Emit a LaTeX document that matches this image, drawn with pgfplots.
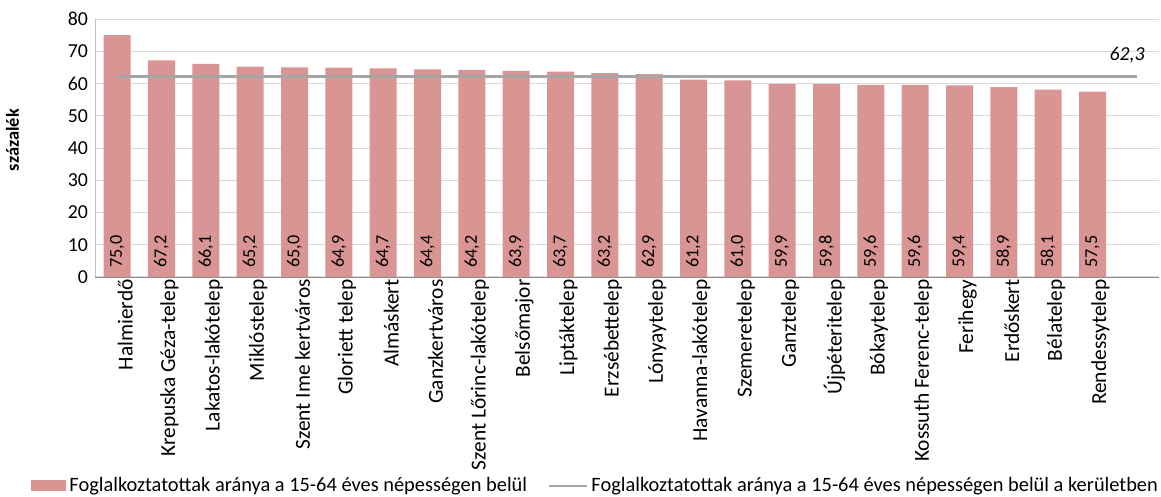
\documentclass[border=0pt]{standalone}
\usepackage{fontspec}
\setmainfont{Carlito}
\usepackage{pgfplots}
\pgfplotsset{compat=1.18}
\definecolor{barcol}{RGB}{217,149,148}
\definecolor{avgline}{RGB}{166,166,166}
\definecolor{gridc}{RGB}{217,217,217}
\newcommand{\chartfont}{\fontsize{9.9}{12}\selectfont}
\newcommand{\catfont}{\fontsize{10.7}{13}\selectfont}
\newcommand{\legfont}{\fontsize{10.2}{12}\selectfont}
\newcommand{\valfont}{\fontsize{9.1}{11}\selectfont}
\begin{document}
\begin{tikzpicture}
\useasboundingbox (-47.5pt,-110pt) rectangle (533pt,138.5pt);
\begin{axis}[
    at={(0,0)}, anchor=south west,
    scale only axis,
    width=532pt, height=129pt,
    xmin=-0.5, xmax=23.5,
    ymin=0, ymax=80,
    ytick={0,10,...,80},
    xtick={0,...,22},
    xticklabels={Halmierdő, Krepuska Géza-telep, Lakatos-lakótelep, Miklóstelep,
        Szent Ime kertváros, Gloriett telep, Almáskert, Ganzkertváros,
        Szent Lőrinc-lakótelep, Belsőmajor, Liptáktelep, Erzsébettelep,
        Lónyaytelep, Havanna-lakótelep, Szemeretelep, Ganztelep, Újpéteritelep,
        Bókaytelep, Kossuth Ferenc-telep, Ferihegy, Erdőskert, Bélatelep,
        Rendessytelep},
    xticklabel style={rotate=90, anchor=east, font=\catfont, inner sep=1pt, yshift=-4pt},
    yticklabel style={font=\chartfont},
    /pgf/number format/assume math mode=true,
    major tick length=0pt,
    axis lines*=left,
    x axis line style={draw=gray!90, -},
    y axis line style={draw=gray!50, -},
    ymajorgrids,
    grid style={draw=gridc, line width=0.5pt},
    ylabel={\bfseries százalék},
    ylabel style={font=\fontsize{9.2}{10}\selectfont, at={(axis description cs:-0.0775,0.531)}, anchor=center},
    legend columns=2,
    legend style={at={(0.471,-0.81)}, anchor=center, draw=none, font=\legfont,
        /tikz/every even column/.append style={column sep=9pt},
        nodes={inner sep=1.5pt},
        inner sep=0pt},
    legend cell align=left,
]
\addplot[ybar, bar width=13.5pt, fill=barcol, draw=none,
    legend image code/.code={\fill[barcol] (0pt,-2.75pt) rectangle (17.5pt,2.75pt);}]
coordinates {
    (0,75.0) (1,67.2) (2,66.1) (3,65.2) (4,65.0) (5,64.9) (6,64.7) (7,64.4)
    (8,64.2) (9,63.9) (10,63.7) (11,63.2) (12,62.9) (13,61.2) (14,61.0)
    (15,59.9) (16,59.8) (17,59.6) (18,59.6) (19,59.4) (20,58.9) (21,58.1)
    (22,57.5)
};
\addlegendentry{Foglalkoztatottak aránya a 15-64 éves népességen belül}
\addplot[avgline, line width=1.5pt,
    legend image code/.code={\draw[avgline, line width=1.2pt] (0pt,0pt) -- (19pt,0pt);}]
coordinates {(0,62.3) (23,62.3)};
\addlegendentry{Foglalkoztatottak aránya a 15-64 éves népességen belül a kerületben}
\addplot[draw=none, mark=none, forget plot,
    nodes near coords, point meta=explicit symbolic,
    every node near coord/.style={rotate=90, anchor=west, font=\valfont, inner sep=4.5pt, text=black}]
coordinates {
    (0,0) [75,0] (1,0) [67,2] (2,0) [66,1] (3,0) [65,2] (4,0) [65,0]
    (5,0) [64,9] (6,0) [64,7] (7,0) [64,4] (8,0) [64,2] (9,0) [63,9]
    (10,0) [63,7] (11,0) [63,2] (12,0) [62,9] (13,0) [61,2] (14,0) [61,0]
    (15,0) [59,9] (16,0) [59,8] (17,0) [59,6] (18,0) [59,6] (19,0) [59,4]
    (20,0) [58,9] (21,0) [58,1] (22,0) [57,5]
};
\node[font=\chartfont\itshape, anchor=base, inner sep=0pt, yshift=8pt] at (axis cs:22.78,62.3) {62,3};
\end{axis}
\end{tikzpicture}
\end{document}
